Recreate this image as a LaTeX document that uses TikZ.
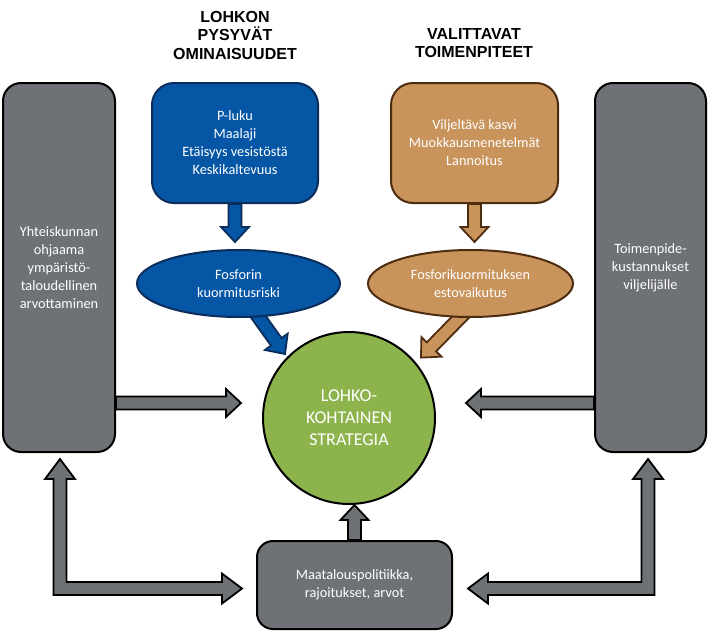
\documentclass[tikz,border=0pt]{standalone}
\usepackage{fontspec}
\setmainfont{Carlito}
\newfontfamily\headfont{Liberation Sans}
\usetikzlibrary{calc,backgrounds,shapes.geometric}

\definecolor{fieldblue}{RGB}{6,86,166}
\definecolor{fieldblueline}{RGB}{10,45,92}
\definecolor{measorange}{RGB}{201,147,92}
\definecolor{measorangeline}{RGB}{78,44,16}
\definecolor{stratgreen}{RGB}{141,179,76}
\definecolor{ctxgray}{RGB}{110,113,117}

\tikzset{
  boxtext/.style={text=white, align=center, inner sep=0pt,
                  font=\fontsize{14.3}{18}\selectfont},
  headtext/.style={align=center, font=\headfont\bfseries\fontsize{16}{18.5}\selectfont},
  bluebox/.style={boxtext, draw=fieldblueline, fill=fieldblue, line width=2pt},
  orangebox/.style={boxtext, draw=measorangeline, fill=measorange, line width=2pt},
  graybox/.style={boxtext, draw=black, fill=ctxgray, line width=2pt},
  bluearrow/.style={draw=fieldblueline, fill=fieldblue, line width=1.8pt},
  orangearrow/.style={draw=measorangeline, fill=measorange, line width=1.8pt},
  grayarrow/.style={draw=black, fill=ctxgray, line width=1.8pt}
}

% block arrow: style, from, to
\newcommand{\blockarrow}[3]{%
  \coordinate (ba-s) at (#2);
  \coordinate (ba-e) at (#3);
  \coordinate (ba-h) at ($(ba-e)!15pt!(ba-s)$);
  \draw[#1] ($(ba-s)!6.5pt!90:(ba-e)$) -- ($(ba-h)!6.5pt!-90:(ba-s)$)
    -- ($(ba-h)!14pt!-90:(ba-s)$) -- (ba-e)
    -- ($(ba-h)!14pt!90:(ba-s)$) -- ($(ba-h)!6.5pt!90:(ba-s)$)
    -- ($(ba-s)!6.5pt!-90:(ba-e)$) -- cycle;
}

\begin{document}
\begin{tikzpicture}[x=1pt, y=-1pt]
\useasboundingbox (0,0) rectangle (709,634);

% ============================
\node[headtext] (lohkohead) at (235,35) {LOHKON\\PYSYVÄT\\OMINAISUUDET};
\node[headtext] (toimhead) at (474,43) {VALITTAVAT\\TOIMENPITEET};

% ============================
\node[bluebox, rectangle, rounded corners=22pt, minimum width=166pt, minimum height=120pt]
    (ominbox) at (235,143) {P-luku\\Maalaji\\Etäisyys vesistöstä\\Keskikaltevuus};

\node[orangebox, rectangle, rounded corners=22pt, minimum width=167pt, minimum height=120pt]
    (toimbox) at (474.5,143) {Viljeltävä kasvi\\Muokkausmenetelmät\\Lannoitus};

% ============================
\node[bluebox, ellipse, minimum width=203pt, minimum height=67pt]
    (riski) at (238.5,283.5) {Fosforin\\kuormitusriski};

\node[orangebox, ellipse, minimum width=205pt, minimum height=67pt]
    (esto) at (470.5,283.5) {Fosforikuormituksen\\estovaikutus};

% ============================
\node[boxtext, circle, draw=black, fill=stratgreen, line width=2pt, minimum size=172pt,
      font=\fontsize{18}{22}\selectfont]
    (strategia) at (349,418) {LOHKO-\\KOHTAINEN\\STRATEGIA};

% ============================
\node[graybox, rectangle, rounded corners=18pt, minimum width=112pt, minimum height=369pt]
    (yhteis) at (59,267.5) {Yhteiskunnan\\ohjaama\\ympäristö-\\taloudellinen\\arvottaminen};

\node[graybox, rectangle, rounded corners=18pt, minimum width=111pt, minimum height=369pt]
    (kustan) at (650.5,267.5) {Toimenpide-\\kustannukset\\viljelijälle};

\node[graybox, rectangle, rounded corners=16pt, minimum width=195pt, minimum height=88pt]
    (politiikka) at (354.5,585) {Maatalouspolitiikka,\\rajoitukset, arvot};

% ============================
\begin{scope}[on background layer]
\fill[white] (0,0) rectangle (709,634);

\coordinate (midrow) at (0,403);

\blockarrow{bluearrow}{ominbox.south}{$(ominbox.south |- riski.north)+(0,-7)$}
\blockarrow{orangearrow}{toimbox.south}{$(toimbox.south |- esto.north)+(0,-7)$}

\blockarrow{bluearrow}{$(riski.-60)!6pt!(riski.center)$}{$(strategia.center)!1.04!(strategia.135)$}
\blockarrow{orangearrow}{$(esto.-100)!6pt!(esto.center)$}{$(strategia.center)!1.08!(strategia.40)$}

\blockarrow{grayarrow}{yhteis.east |- midrow}{$(strategia.west |- midrow)+(-21,0)$}
\blockarrow{grayarrow}{kustan.west |- midrow}{$(strategia.east |- midrow)+(30,0)$}
\blockarrow{grayarrow}{politiikka.north}{politiikka.north |- strategia.south}

% ============================
\coordinate (lt) at ($(yhteis.south)+(1,6)$);
\coordinate (le) at ($(politiikka.west)+(-14,3.5)$);
\draw[grayarrow] (lt) -- ++(15,20) -- ++(-8.5,0) |- ($(le)+(-20,-6.5)$) -- ++(0,-8.5)
    -- (le) -- ++(-20,15) -- ++(0,-8.5) -| ($(lt)+(-6.5,20)$) -- ++(-8.5,0) -- cycle;

\coordinate (rt) at ($(kustan.south)+(-2.5,6)$);
\coordinate (re) at ($(politiikka.east)+(15,3.5)$);
\draw[grayarrow] (rt) -- ++(-15,20) -- ++(8.5,0) |- ($(re)+(20,-6.5)$) -- ++(0,-8.5)
    -- (re) -- ++(20,15) -- ++(0,-8.5) -| ($(rt)+(6.5,20)$) -- ++(8.5,0) -- cycle;
\end{scope}

\end{tikzpicture}
\end{document}
